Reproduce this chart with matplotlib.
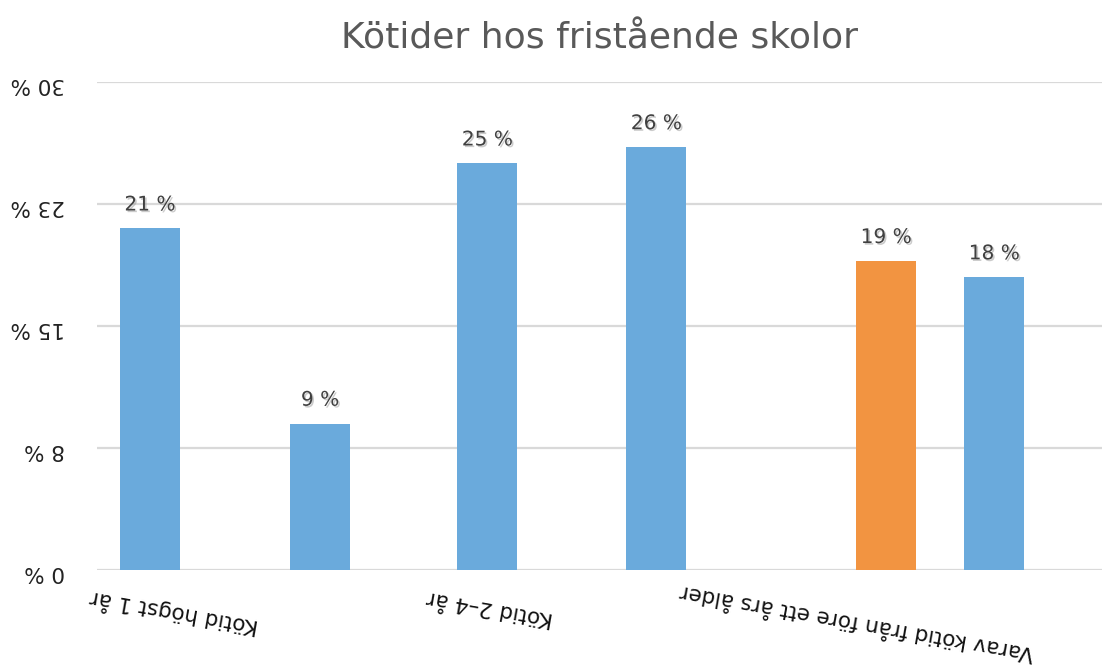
import matplotlib
matplotlib.use('Agg')
import matplotlib.pyplot as plt
import matplotlib.patheffects as pe

# Data
values = [21, 9, 25, 26, 19, 18]
value_labels = ['21 %', '9 %', '25 %', '26 %', '19 %', '18 %']
bar_colors = ['#6aaadc', '#6aaadc', '#6aaadc', '#6aaadc', '#f29441', '#6aaadc']
categories = ['Kötid högst 1 år', 'Kötid 2–4 år', 'Varav kötid från före ett års ålder']
yticks = [0, 7.5, 15, 22.5, 30]
ytick_labels = ['0 %', '8 %', '15 %', '23 %', '30 %']

# Layout (positions in slot units)
bar_pos = [0.314, 1.32, 2.31, 3.31, 4.67, 5.31]
label_pos = [(0.456, -0.088), (2.325, -0.078), (4.50, -0.106)]

fig = plt.figure(figsize=(11.02, 6.65), dpi=100)
ax = fig.add_axes([0.088, 0.1429, 0.912, 0.7338])

ax.bar(bar_pos, values, width=0.355, color=bar_colors, zorder=3)
ax.set_xlim(0, 5.947)
ax.set_ylim(0, 30)

ax.set_yticks(yticks)
ax.set_yticklabels(ytick_labels, rotation=180, fontsize=15.5, color='#222222')
ax.tick_params(axis='y', length=0, pad=23)
ax.set_xticks([])
ax.grid(axis='y', color='#d9d9d9', lw=1.6, zorder=0)
for s in ax.spines.values():
    s.set_visible(False)

shadow = [pe.SimplePatchShadow(offset=(1.2, -1.2), shadow_rgbFace='#999999', alpha=0.5), pe.Normal()]
for x, v, lab in zip(bar_pos, values, value_labels):
    ax.annotate(lab, (x, v), xytext=(0, 10), textcoords='offset points',
                ha='center', va='bottom', fontsize=14.5, color='#404040',
                path_effects=shadow)

for (x, y), cat in zip(label_pos, categories):
    ax.text(x, y, cat, transform=ax.get_xaxis_transform(), rotation=170,
            ha='center', va='center', fontsize=15.5, color='#111111')

ax.text(0.5, 1.068, 'Kötider hos fristående skolor', transform=ax.transAxes,
        ha='center', va='baseline', fontsize=26, color='#595959')

fig.savefig('out.png', dpi=100)
